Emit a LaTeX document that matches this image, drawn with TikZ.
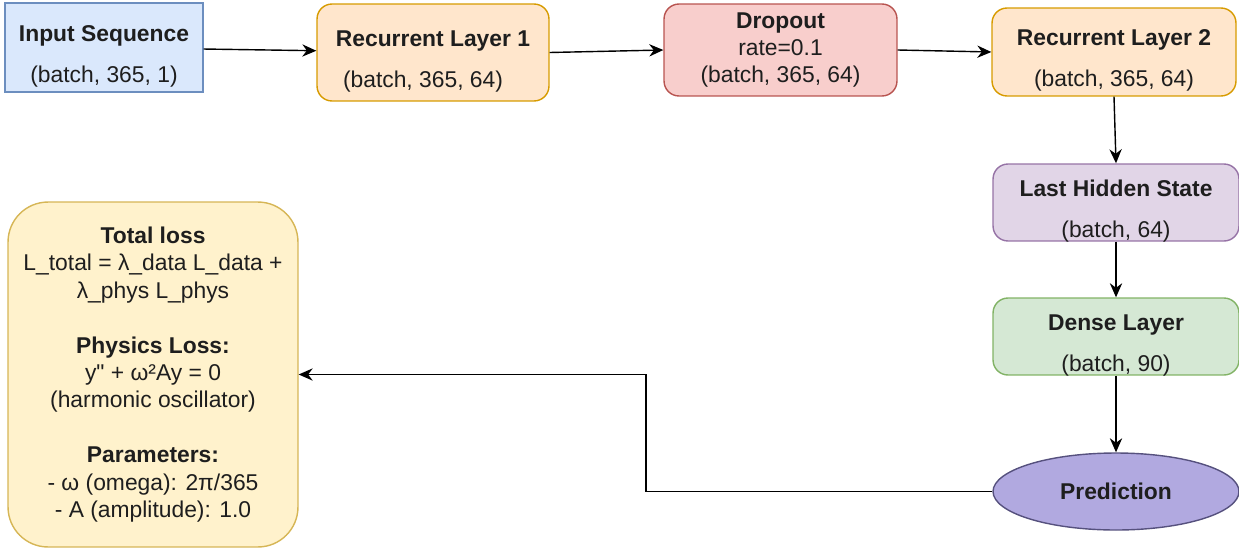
\documentclass[tikz,border=0pt]{standalone}
\usepackage{fontspec}
\setmainfont{Liberation Sans}
\usetikzlibrary{shapes.geometric, arrows.meta, positioning}

\definecolor{txt}{HTML}{1E1E1E}
\definecolor{inFill}{HTML}{DAE8FC}\definecolor{inLine}{HTML}{6C8EBF}
\definecolor{recFill}{HTML}{FFE6CC}\definecolor{recLine}{HTML}{D79B00}
\definecolor{dropFill}{HTML}{F8CECC}\definecolor{dropLine}{HTML}{B85450}
\definecolor{hidFill}{HTML}{E1D5E7}\definecolor{hidLine}{HTML}{9673A6}
\definecolor{denFill}{HTML}{D5E8D4}\definecolor{denLine}{HTML}{82B366}
\definecolor{predFill}{HTML}{B1A9E0}\definecolor{predLine}{HTML}{56517E}
\definecolor{lossFill}{HTML}{FFF2CC}\definecolor{lossLine}{HTML}{D6B656}

% title + shape line, set a little below the middle of the box
\newcommand{\twoline}[2]{\raisebox{-5pt}[\height][\depth]{\begin{tabular}{@{}c@{}}\textbf{#1}\\[7.7pt]#2\end{tabular}}}

\begin{document}
\begin{tikzpicture}[
    x=0.02cm, y=-0.02cm,
    box/.style={rectangle, draw, line width=0.8pt, align=center, inner sep=0pt, text=txt, font=\fontsize{13}{15.6}\selectfont},
    layer/.style={box, rounded corners=0.3cm},
    flow/.style={-{Stealth[length=8pt, width=7pt]}, line width=0.8pt}
]
    \useasboundingbox (0,0) rectangle (1239,551);

    % Top row
    \node[box, fill=inFill, draw=inLine, minimum width=3.96cm, minimum height=1.78cm] (input) at (104,47.5) {\twoline{Input Sequence}{(batch, 365, 1)}};
    \node[layer, fill=recFill, draw=recLine, minimum width=4.64cm, minimum height=1.94cm] (rec1) at (433,52.5) {\twoline{Recurrent Layer 1}{(batch, 365, 64)\hspace*{0.4cm}}};
    \node[layer, fill=dropFill, draw=dropLine, minimum width=4.66cm, minimum height=1.84cm] (drop) at (780.5,50) {\textbf{Dropout}\\rate=0.1\\(batch, 365, 64)};
    \node[layer, fill=recFill, draw=recLine, minimum width=4.88cm, minimum height=1.76cm] (rec2) at (1114,52) {\twoline{Recurrent Layer 2}{(batch, 365, 64)}};

    % Right column
    \node[layer, fill=hidFill, draw=hidLine, minimum width=4.92cm, minimum height=1.54cm] (hidden) at (1116,202.5) {\twoline{Last Hidden State}{(batch, 64)}};
    \node[layer, fill=denFill, draw=denLine, minimum width=4.92cm, minimum height=1.54cm] (dense) at (1116,336.5) {\twoline{Dense Layer}{(batch, 90)}};
    \node[box, ellipse, fill=predFill, draw=predLine, minimum width=4.92cm, minimum height=1.54cm] (pred) at (1116,491.5) {\textbf{Prediction}};

    % Loss box
    \node[box, rounded corners=0.8cm, fill=lossFill, draw=lossLine, minimum width=5.8cm, minimum height=6.9cm] (loss) at (153,374.5) {\textbf{Total loss}\\L\_total = λ\_data L\_data +\\λ\_phys L\_phys\\ \\\textbf{Physics Loss:}\\y\textquotedbl{} + ω²Ay = 0\\(harmonic oscillator)\\ \\\textbf{Parameters:}\\- ω (omega): 2π/365\\- A (amplitude): 1.0};

    % Connections
    \draw[flow] (input) -- (rec1);
    \draw[flow] (rec1.east) -- (drop.west);
    \draw[flow] (drop.east) -- (rec2.west);
    \draw[flow] (rec2.south) -- (hidden.north);
    \draw[flow] (hidden) -- (dense);
    \draw[flow] (dense) -- (pred);
    \coordinate (bend) at (646,491.5);
    \draw[flow] (pred.west) -- (bend) |- (loss.east);
\end{tikzpicture}
\end{document}
